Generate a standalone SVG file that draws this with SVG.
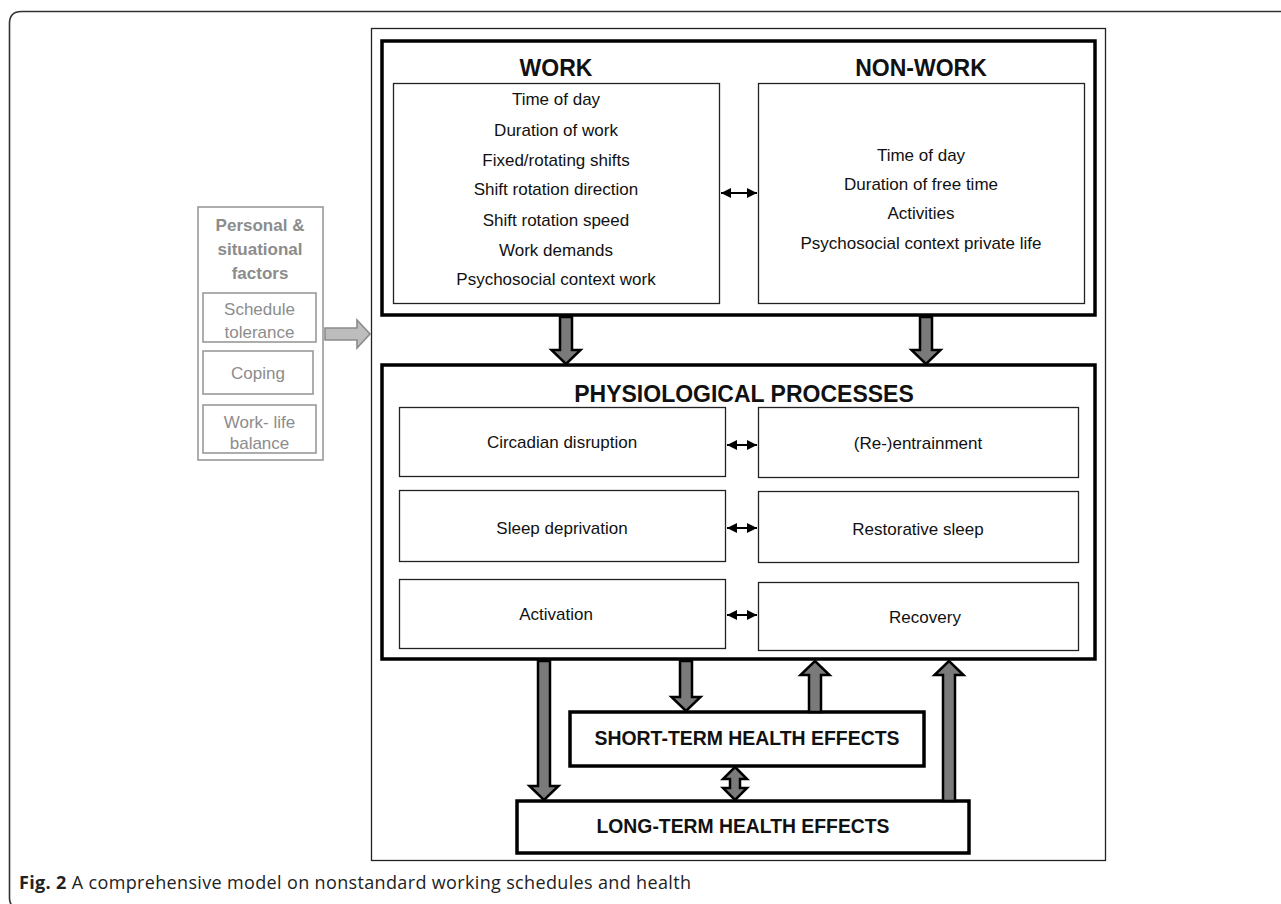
<svg xmlns="http://www.w3.org/2000/svg" width="1281" height="904" viewBox="0 0 1281 904">
<style>
.t{font-family:"Liberation Sans",Arial,sans-serif;fill:#111;text-anchor:middle}
.b{font-weight:bold}
.thin{fill:#fff;stroke:#222;stroke-width:1.3}
.thick{fill:#fff;stroke:#000;stroke-width:3.5}
.blk{fill:#7a7a7a;stroke:#000;stroke-width:2.5;stroke-linejoin:miter}
.g{fill:#fff;stroke:#999;stroke-width:1.6}
.gt{font-family:"Liberation Sans",Arial,sans-serif;fill:#8c8c8c;text-anchor:middle;font-size:17px}
.cap{font-family:"Open Sans","Liberation Sans",sans-serif;font-size:18px;fill:#222}
</style>
<defs>
<marker id="ah" viewBox="0 0 10 10" refX="10" refY="5" markerWidth="10" markerHeight="10" markerUnits="userSpaceOnUse" orient="auto-start-reverse">
<path d="M0,0 L10,5 L0,10 z" fill="#000"/>
</marker>
</defs>
<rect width="1281" height="904" fill="#fff"/>
<path d="M1290,11.5 H21.5 Q9.5,11.5 9.5,23.5 V898 Q9.5,906 16,908" fill="none" stroke="#333" stroke-width="1.6"/>
<rect x="371.5" y="28.5" width="734" height="832" fill="#fff" stroke="#222" stroke-width="1.3"/>

<g id="personal">
<rect class="g" x="198" y="207" width="125" height="253" stroke-width="2.5"/>
<text class="gt b" x="260" y="231">Personal &amp;</text>
<text class="gt b" x="260" y="255">situational</text>
<text class="gt b" x="260" y="279">factors</text>
</g>
<g id="schedule">
<rect class="g" x="203" y="293" width="113" height="49"/>
<text class="gt" x="259.5" y="315">Schedule</text>
<text class="gt" x="259.5" y="338">tolerance</text>
</g>
<g id="coping">
<rect class="g" x="203" y="351" width="110" height="43"/>
<text class="gt" x="258" y="379">Coping</text>
</g>
<g id="worklife">
<rect class="g" x="203" y="405" width="113" height="48"/>
<text class="gt" x="259.5" y="428">Work- life</text>
<text class="gt" x="259.5" y="449">balance</text>
</g>

<g id="top">
<rect class="thick" x="382" y="41" width="713" height="274"/>
</g>
<g id="work">
<text class="t b" x="556" y="76" font-size="23">WORK</text>
<rect class="thin" x="393.5" y="83.5" width="326" height="220"/>
<text class="t" font-size="17" x="556" y="105">Time of day</text>
<text class="t" font-size="17" x="556" y="136">Duration of work</text>
<text class="t" font-size="17" x="556" y="166">Fixed/rotating shifts</text>
<text class="t" font-size="17" x="556" y="195">Shift rotation direction</text>
<text class="t" font-size="17" x="556" y="226">Shift rotation speed</text>
<text class="t" font-size="17" x="556" y="256">Work demands</text>
<text class="t" font-size="17" x="556" y="285">Psychosocial context work</text>
</g>
<g id="nonwork">
<text class="t b" x="921" y="76" font-size="23">NON-WORK</text>
<rect class="thin" x="758.5" y="83.5" width="326" height="220"/>
<text class="t" font-size="17" x="921" y="161">Time of day</text>
<text class="t" font-size="17" x="921" y="190">Duration of free time</text>
<text class="t" font-size="17" x="921" y="219">Activities</text>
<text class="t" font-size="17" x="921" y="249">Psychosocial context private life</text>
</g>

<g id="physio">
<rect class="thick" x="382" y="365" width="713" height="294"/>
<text class="t b" x="744" y="402" font-size="23">PHYSIOLOGICAL PROCESSES</text>
</g>
<g id="circadian"><rect class="thin" x="399.5" y="407.5" width="326" height="69"/><text class="t" font-size="17" x="562" y="448">Circadian disruption</text></g>
<g id="entrainment"><rect class="thin" x="758.5" y="407.5" width="320" height="70"/><text class="t" font-size="17" x="918" y="449">(Re-)entrainment</text></g>
<g id="sleepdep"><rect class="thin" x="399.5" y="490.5" width="326" height="71"/><text class="t" font-size="17" x="562" y="534">Sleep deprivation</text></g>
<g id="restorative"><rect class="thin" x="758.5" y="491.5" width="320" height="71"/><text class="t" font-size="17" x="918" y="535">Restorative sleep</text></g>
<g id="activation"><rect class="thin" x="399.5" y="579.5" width="326" height="69"/><text class="t" font-size="17" x="556" y="620">Activation</text></g>
<g id="recovery"><rect class="thin" x="758.5" y="582.5" width="320" height="68"/><text class="t" font-size="17" x="925" y="623">Recovery</text></g>

<g id="short">
<rect class="thick" x="570" y="712" width="354" height="54" stroke-width="3"/>
<text class="t b" x="747" y="745" font-size="21" textLength="305" lengthAdjust="spacingAndGlyphs">SHORT-TERM HEALTH EFFECTS</text>
</g>
<g id="long">
<rect class="thick" x="517" y="801" width="452" height="52" stroke-width="3"/>
<text class="t b" x="743" y="833" font-size="21" textLength="293" lengthAdjust="spacingAndGlyphs">LONG-TERM HEALTH EFFECTS</text>
</g>

<g id="connectors">
<line x1="721" y1="193" x2="757" y2="193" stroke="#000" stroke-width="2" marker-start="url(#ah)" marker-end="url(#ah)"/>
<line x1="727" y1="445" x2="757" y2="445" stroke="#000" stroke-width="2" marker-start="url(#ah)" marker-end="url(#ah)"/>
<line x1="727" y1="528" x2="757" y2="528" stroke="#000" stroke-width="2" marker-start="url(#ah)" marker-end="url(#ah)"/>
<line x1="727" y1="615" x2="757" y2="615" stroke="#000" stroke-width="2" marker-start="url(#ah)" marker-end="url(#ah)"/>
<polygon class="blk" points="560,317 572,317 572,350 580.5,350 566,364 551.5,350 560,350"/>
<polygon class="blk" points="920,317 932,317 932,350 940.5,350 926,364 911.5,350 920,350"/>
<polygon class="blk" points="538,661 550,661 550,786 558.5,786 544,800 529.5,786 538,786"/>
<polygon class="blk" points="680,661 692,661 692,697 700.5,697 686,711 671.5,697 680,697"/>
<polygon class="blk" points="809,712 821,712 821,675 829.5,675 815,661 800.5,675 809,675"/>
<polygon class="blk" points="943,801 955,801 955,675 963.5,675 949,661 934.5,675 943,675"/>
<polygon class="blk" points="735,767 747,779 740,779 740,788 747,788 735,800 723,788 730,788 730,779 723,779"/>
<polygon points="325,328 357,328 357,320 370,334 357,348 357,340 325,340" fill="#bdbdbd" stroke="#8a8a8a" stroke-width="1.6"/>
</g>

<text class="cap" x="19" y="889" textLength="672" lengthAdjust="spacing"><tspan font-weight="bold">Fig. 2</tspan> A comprehensive model on nonstandard working schedules and health</text>
</svg>
